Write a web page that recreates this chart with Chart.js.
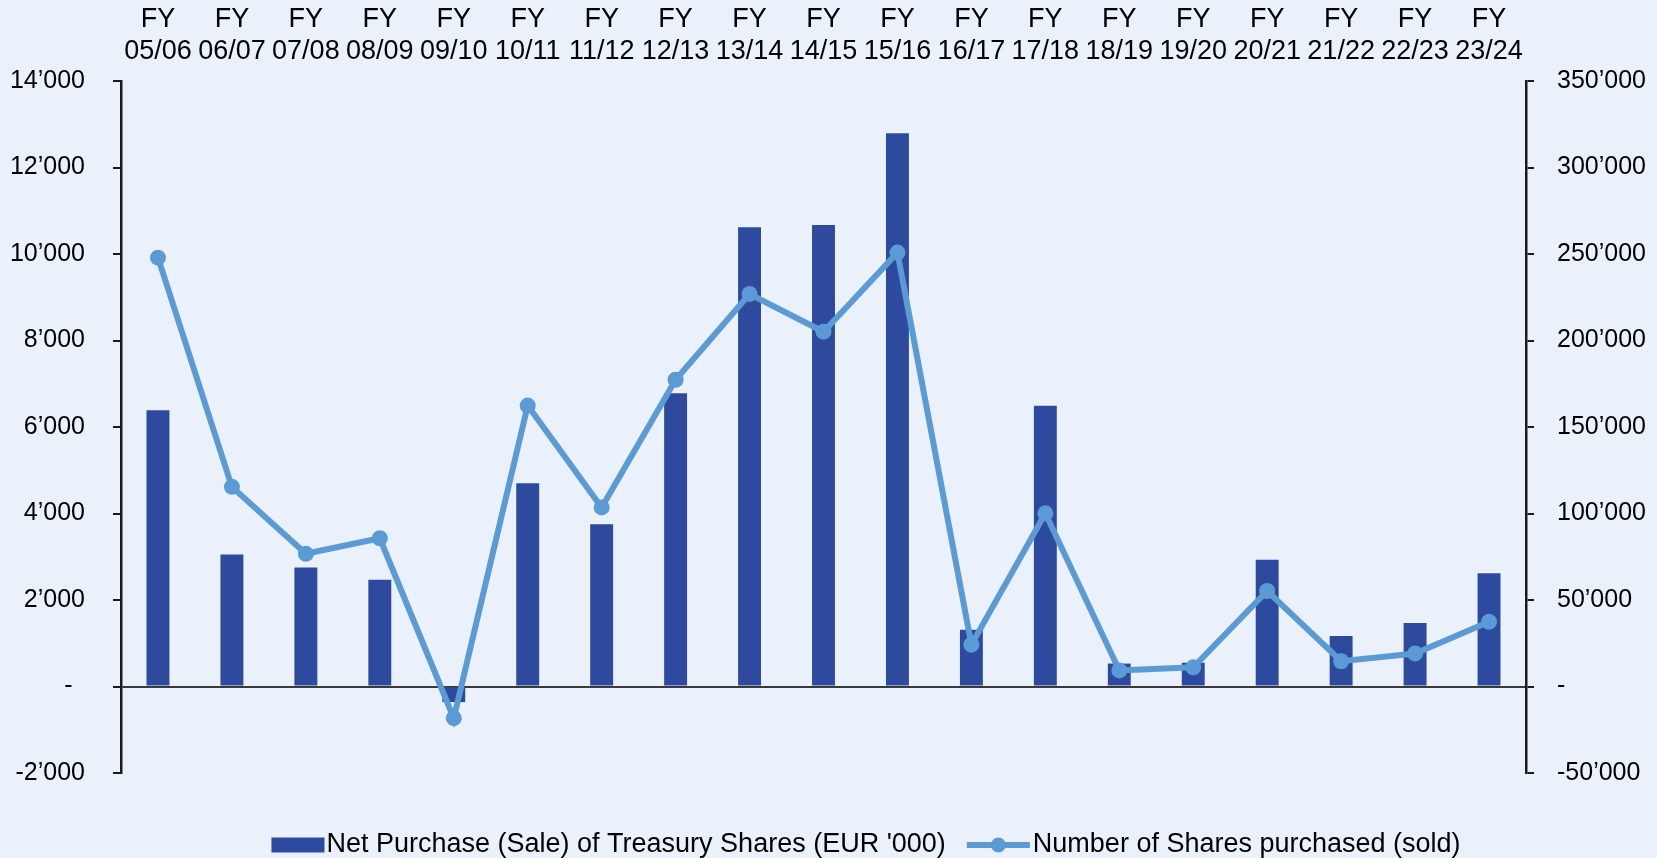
<!DOCTYPE html>
<html>
<head>
<meta charset="utf-8">
<script src="https://cdn.jsdelivr.net/npm/chart.js@4"></script>
<style>
  html, body { margin: 0; padding: 0; background: #EAF1FB; }
  #wrap { width: 1657px; height: 858px; }
</style>
</head>
<body>
<div id="wrap"><canvas id="treasuryChart" width="1657" height="858"></canvas></div>
<script>
const years = ['05/06', '06/07', '07/08', '08/09', '09/10', '10/11', '11/12', '12/13', '13/14', '14/15',
               '15/16', '16/17', '17/18', '18/19', '19/20', '20/21', '21/22', '22/23', '23/24'];
// EUR '000, left axis
const netPurchase = [6390, 3050, 2750, 2470, -360, 4700, 3750, 6780, 10620, 10670,
                     12790, 1310, 6490, 530, 550, 2930, 1170, 1470, 2620];
// number of shares, right axis
const sharesPurchased = [247900, 115400, 76700, 85700, -18300, 162400, 103500, 177300, 226900, 205100,
                         250800, 24200, 100100, 9300, 11100, 55200, 14600, 19100, 37400];
const leftTicks = { min: -2000, max: 14000, step: 2000 };
const rightTicks = { min: -50000, max: 350000, step: 50000 };

const barColor = '#2E4A9E';
const lineColor = '#5B9BD5';
const bgColor = '#EAF1FB';
const fontFamily = '"Liberation Sans", Arial, sans-serif';
const fontSize = 25;
const labelSize = 27;

// 14000 -> 14’000, 0 -> -
function fmt(v, padZero) {
    if (v === 0) return padZero ? '-\u2002' : '-';
    return String(v).replace(/\B(?=(\d{3})+(?!\d))/g, '\u2019');
}

const background = {
    id: 'background',
    beforeDraw(chart) {
        const ctx = chart.ctx;
        ctx.save();
        ctx.fillStyle = bgColor;
        ctx.fillRect(0, 0, chart.width, chart.height);
        ctx.restore();
    }
};

// legend drawn by hand so the symbols sit right against the text
const bottomLegend = {
    id: 'bottomLegend',
    afterDraw(chart) {
        const ctx = chart.ctx;
        const ds = chart.data.datasets;
        ctx.save();
        ctx.font = labelSize + 'px ' + fontFamily;
        ctx.textBaseline = 'middle';
        ctx.fillStyle = '#000';
        const w1 = ctx.measureText(ds[0].label).width;
        const w2 = ctx.measureText(ds[1].label).width;
        const total = 53 + 2 + w1 + 21 + 63 + 3 + w2;
        let x = 866 - total / 2;
        const y = 845;
        ctx.fillStyle = barColor;
        ctx.fillRect(x, y - 7.5, 53, 15);
        x += 55;
        ctx.fillStyle = '#000';
        ctx.fillText(ds[0].label, x, y);
        x += w1 + 21;
        ctx.strokeStyle = lineColor;
        ctx.lineWidth = 6;
        ctx.beginPath();
        ctx.moveTo(x, y);
        ctx.lineTo(x + 63, y);
        ctx.stroke();
        ctx.fillStyle = lineColor;
        ctx.beginPath();
        ctx.arc(x + 31.5, y, 7.5, 0, Math.PI * 2);
        ctx.fill();
        x += 66;
        ctx.fillStyle = '#000';
        ctx.fillText(ds[1].label, x, y);
        ctx.restore();
    }
};

Chart.defaults.font.family = fontFamily;
Chart.defaults.font.size = fontSize;
Chart.defaults.color = '#000';

const config = {
    type: 'bar',
    data: {
        labels: years.map(y => ['FY', y]),
        datasets: [{
            type: 'bar',
            label: "Net Purchase (Sale) of Treasury Shares (EUR '000)",
            data: netPurchase,
            backgroundColor: barColor,
            yAxisID: 'y',
            barPercentage: 0.31,
            categoryPercentage: 1.0,
            order: 1
        }, {
            type: 'line',
            label: 'Number of Shares purchased (sold)',
            data: sharesPurchased,
            borderColor: lineColor,
            backgroundColor: lineColor,
            borderWidth: 6,
            pointRadius: 8,
            pointHoverRadius: 8,
            pointBorderWidth: 0,
            tension: 0,
            yAxisID: 'y1',
            order: 0
        }]
    },
    options: {
        responsive: false,
        animation: false,
        layout: { padding: { top: 0, left: 0, right: 0, bottom: 85 } },
        plugins: {
            legend: { display: false },
            tooltip: { enabled: false }
        },
        scales: {
            x: {
                position: 'top',
                grid: { display: false, drawTicks: false },
                border: { display: false },
                ticks: { padding: 14, maxRotation: 0, autoSkip: false, font: { size: labelSize, lineHeight: 1.17 } },
                afterFit(scale) { scale.height = 81; }
            },
            y: {
                position: 'left',
                min: leftTicks.min,
                max: leftTicks.max,
                ticks: { stepSize: leftTicks.step, padding: 28, callback: v => fmt(v, true) },
                grid: {
                    color: c => (c.tick && c.tick.value === 0) ? '#3a3a3a' : 'rgba(0,0,0,0)',
                    lineWidth: 2,
                    tickColor: '#1a1a1a',
                    tickLength: 8
                },
                border: { display: true, color: '#1a1a1a', width: 2.5 },
                afterFit(scale) { scale.width = 121; }
            },
            y1: {
                position: 'right',
                min: rightTicks.min,
                max: rightTicks.max,
                ticks: { stepSize: rightTicks.step, padding: 23, callback: v => fmt(v, false) },
                grid: { drawOnChartArea: false, tickColor: '#1a1a1a', tickLength: 8, lineWidth: 2 },
                border: { display: true, color: '#1a1a1a', width: 2.5 },
                afterFit(scale) { scale.width = 131; }
            }
        }
    },
    plugins: [background, bottomLegend]
};

const chartCanvas = document.getElementById('treasuryChart');
const treasuryChart = new Chart(chartCanvas, config);
</script>
</body>
</html>
